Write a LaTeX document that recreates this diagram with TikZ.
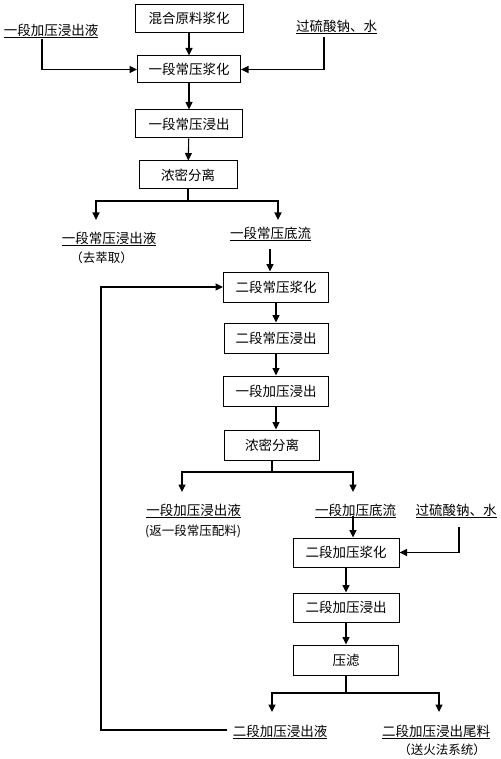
\documentclass[tikz,border=0pt]{standalone}
\usepackage{fontspec}
\setmainfont{Noto Sans CJK SC}
\usetikzlibrary{arrows.meta}

\begin{document}
\begin{tikzpicture}[
  x=1pt, y=-1pt,
  box/.style={
    draw,
    line width=1pt,
    minimum height=29pt,
    inner sep=0pt,
    font=\fontsize{13.5}{16}\selectfont
  },
  arr/.style={
    draw,
    line width=1.1pt,
    -{Triangle[length=7.5pt,width=7pt]}
  },
  lbl/.style={
    inner sep=0pt,
    font=\fontsize{13.5}{16}\selectfont
  },
  note/.style={
    inner sep=0pt,
    font=\fontsize{12.5}{15}\selectfont
  },
]
\useasboundingbox (0,0) rectangle (500,759);
% first stage
\node[box, minimum width=108pt, minimum height=28pt] (mix) at (189,18.5) {混合原料浆化};
\node[box, minimum width=103pt, minimum height=27pt] (slurryA) at (189,69.5) {一段常压浆化};
\node[box, minimum width=107pt, minimum height=28pt] (leachA) at (189,124) {一段常压浸出};
\node[box, minimum width=98pt, minimum height=28pt] (thickA) at (188,175) {浓密分离};
\node[lbl] (backA) at (51,31) {\underline{一段加压浸出液}};
\node[lbl] (persA) at (336.5,27) {\underline{过硫酸钠、水}};
\node[lbl] (liqA) at (109,239) {\underline{一段常压浸出液}};
\node[note] (liqAnote) at (101.5,258) {（去萃取）};
\node[lbl] (uflA) at (270.5,234) {\underline{一段常压底流}};
% second stage
\node[box, minimum width=105pt, minimum height=30pt] (slurryB) at (276,287) {二段常压浆化};
\node[box, minimum width=104pt, minimum height=30pt] (leachB) at (276,338) {二段常压浸出};
\node[box, minimum width=105pt, minimum height=30pt] (pleachA) at (276,391) {一段加压浸出};
\node[box, minimum width=95pt, minimum height=30pt] (thickB) at (272,445) {浓密分离};
\node[lbl] (liqB) at (193.5,511) {\underline{一段加压浸出液}};
\node[note] (liqBnote) at (193,531) {(返一段常压配料)};
\node[lbl] (uflB) at (355.5,511) {\underline{一段加压底流}};
\node[lbl] (persB) at (456,511) {\underline{过硫酸钠、水}};
% third stage
\node[box, minimum width=106pt, minimum height=29pt] (pslurryB) at (346,552.5) {二段加压浆化};
\node[box, minimum width=106pt, minimum height=29pt] (pleachB) at (346,607.5) {二段加压浸出};
\node[box, minimum width=105pt, minimum height=30pt] (press) at (346,660) {压滤};
\node[lbl] (liqC) at (280,732) {\underline{二段加压浸出液}};
\node[lbl] (tail) at (436,732) {\underline{二段加压浸出尾料}};
\node[note] (tailnote) at (442,750) {（送火法系统）};

\coordinate (sA) at (42,39);
\coordinate (sB) at (324,37);
\coordinate (jA) at (188,201);
\coordinate (eAl) at (96,220);
\coordinate (eAr) at (278,220);
\coordinate (sU) at (270,249);
\coordinate (jB) at (272,472);
\coordinate (eBl) at (182,492);
\coordinate (eBr) at (353,492);
\coordinate (sV) at (353,516);
\coordinate (sC) at (459,527);
\coordinate (jC) at (351,693);
\coordinate (eCl) at (272,712);
\coordinate (eCr) at (439,712);
\coordinate (fb) at (227,730);
\coordinate (fbc) at (101,730);

\draw[arr] (mix) -- (slurryA);
\draw[arr] (sA) |- (slurryA);
\draw[arr] (sB) |- (slurryA);
\draw[arr] (slurryA) -- (leachA);
\draw[arr] (leachA) -- (thickA);
\draw[arr] (thickA) -- (jA) -| (eAl);
\draw[arr] (jA) -| (eAr);
\draw[arr] (sU) -- (sU |- slurryB.north);
\draw[arr] (slurryB) -- (leachB);
\draw[arr] (leachB) -- (pleachA);
\draw[arr] (pleachA) -- (pleachA |- thickB.north);
\draw[arr] (thickB) -- (jB) -| (eBl);
\draw[arr] (jB) -| (eBr);
\draw[arr] (sV) -- (sV |- pslurryB.north);
\draw[arr] (sC) |- (pslurryB);
\draw[arr] (pslurryB) -- (pleachB);
\draw[arr] (pleachB) -- (press);
\draw[arr] (press) -- (press |- jC) -| (eCl);
\draw[arr] (press |- jC) -| (eCr);
\draw[arr] (fb) -- (fbc) |- (slurryB);
\end{tikzpicture}
\end{document}
